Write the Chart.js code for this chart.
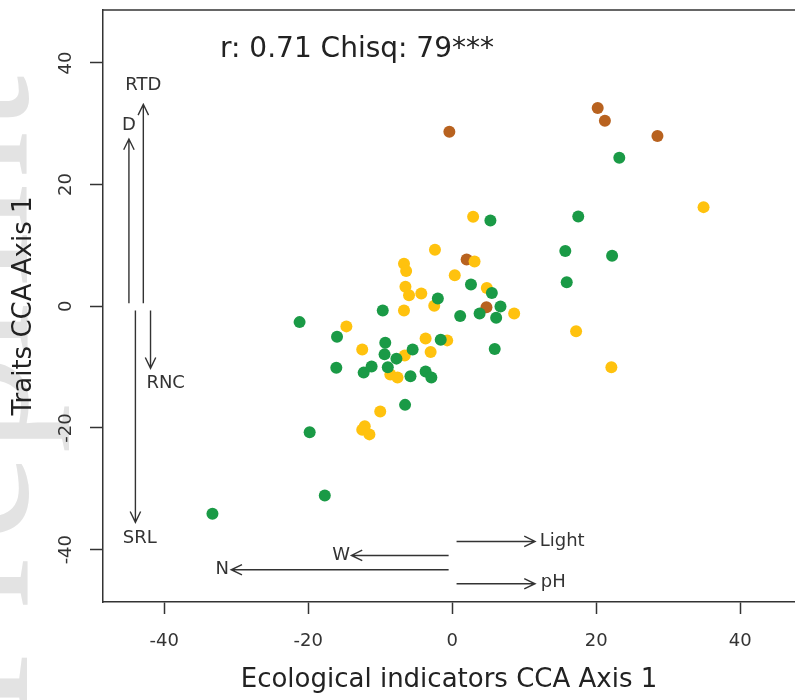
<!DOCTYPE html>
<html>
<head>
<meta charset="utf-8">
<script src="https://cdn.jsdelivr.net/npm/chart.js@4"></script>
<style>
  html, body { margin: 0; padding: 0; background: #fff; }
  #wrap { width: 795px; height: 700px; }
</style>
</head>
<body>
<div id="wrap"><canvas id="cca"></canvas></div>
<script>
// CCA site scores (x = ecological indicators axis 1, y = traits axis 1)
const GREEN_X = [23.2, 5.3, 17.5, 15.7, 22.2, 15.9, 2.6, 5.5, -2.0, 6.7, 3.8, 1.1, 6.1, -1.6, -5.5, 5.9, -9.65,
  -21.2, -16.0, -9.3, -9.4, -7.75, -16.1, -12.3, -11.2, -8.95, -5.8, -3.7, -2.9, -6.55, -19.8, -33.3, -17.7];
const GREEN_Y = [24.4, 14.1, 14.75, 9.1, 8.3, 3.95, 3.6, 2.2, 1.3, -0.05, -1.2, -1.6, -1.9, -5.5, -7.1, -7.0, -0.7,
  -2.6, -5.0, -6.0, -7.9, -8.6, -10.1, -10.9, -9.9, -10.0, -11.5, -10.7, -11.7, -16.2, -20.7, -34.1, -31.1];

const YELLOW_X = [34.9, 2.9, -2.4, 3.1, 0.35, 4.8, -2.5, -4.3, 8.6, -3.7, -0.7, -3.0, 17.2, 22.1, -6.7, -6.4, -6.5,
  -6.0, -6.7, -14.7, -12.5, -6.6, -8.6, -7.6, -10.0, -12.15, -12.5, -11.5];
const YELLOW_Y = [16.3, 14.7, 9.3, 7.35, 5.1, 3.0, 0.1, 2.1, -1.2, -5.3, -5.6, -7.5, -4.1, -10.0, 7.0, 5.8, 3.2,
  1.8, -0.7, -3.3, -7.1, -8.1, -11.2, -11.7, -17.3, -19.7, -20.3, -21.05];

const BROWN_X = [-0.4, 20.2, 21.2, 28.5, 2.0, 4.75];
const BROWN_Y = [28.7, 32.6, 30.5, 28.0, 7.7, -0.16];

// biplot arrows (start -> tip) and where their labels sit
const ARROW_NAMES = ['D', 'RTD', 'SRL', 'RNC', 'Light', 'pH', 'W', 'N'];
const ARROW_X0 = [-44.9, -42.9, -44.0, -41.9, 0.6, 0.6, -0.5, -0.5];
const ARROW_Y0 = [0.5, 0.5, -0.7, -0.7, -38.65, -45.6, -40.95, -43.3];
const ARROW_X1 = [-44.9, -42.9, -44.0, -41.9, 11.5, 11.5, -14.0, -30.7];
const ARROW_Y1 = [27.5, 33.2, -35.5, -10.2, -38.65, -45.6, -40.95, -43.3];
const LABEL_X = [-44.9, -42.9, -43.4, -39.8, 12.15, 12.3, -14.2, -31.0];
const LABEL_Y = [29.8, 36.3, -38.2, -12.7, -38.65, -45.3, -40.95, -43.3];
const LABEL_ALIGN = ['center', 'center', 'center', 'center', 'left', 'left', 'right', 'right'];

const X_TICKS = [-40, -20, 0, 20, 40];
const Y_TICKS = [-40, -20, 0, 20, 40];
const STAT_TEXT = 'r: 0.71 Chisq: 79***';

const INK = '#333333';
Chart.defaults.font.family = 'DejaVu Sans';

function toPoints(xs, ys) {
  return xs.map((x, i) => ({ x: x, y: ys[i] }));
}

function noPad(s) {
  s.paddingTop = 0; s.paddingBottom = 0; s.paddingLeft = 0; s.paddingRight = 0;
}

const watermark = {
  id: 'watermark',
  beforeDraw(chart) {
    const ctx = chart.ctx;
    ctx.save();
    ctx.fillStyle = '#ffffff';
    ctx.fillRect(0, 0, chart.width, chart.height);
    ctx.fillStyle = '#e3e3e3';
    ctx.font = '200px "Liberation Serif"';
    ctx.translate(27, 720);
    ctx.rotate(-Math.PI / 2);
    ctx.textBaseline = 'alphabetic';
    ctx.fillText('Preprint', 0, 0);
    ctx.restore();
  }
};

const extras = {
  id: 'extras',
  afterDatasetsDraw(chart) {
    const ctx = chart.ctx;
    const xs = chart.scales.x, ys = chart.scales.y;
    const area = chart.chartArea;
    ctx.save();

    // top edge of the box (R's box without the cut-off right side)
    ctx.strokeStyle = INK;
    ctx.lineWidth = 1.5;
    ctx.beginPath();
    ctx.moveTo(area.left, area.top);
    ctx.lineTo(area.right, area.top);
    ctx.stroke();

    // arrows
    ctx.lineWidth = 1.4;
    ARROW_NAMES.forEach((name, i) => {
      const x0 = xs.getPixelForValue(ARROW_X0[i]), y0 = ys.getPixelForValue(ARROW_Y0[i]);
      const x1 = xs.getPixelForValue(ARROW_X1[i]), y1 = ys.getPixelForValue(ARROW_Y1[i]);
      const ang = Math.atan2(y1 - y0, x1 - x0);
      const len = 12, spread = 0.45;
      ctx.beginPath();
      ctx.moveTo(x0, y0);
      ctx.lineTo(x1, y1);
      ctx.moveTo(x1 - len * Math.cos(ang - spread), y1 - len * Math.sin(ang - spread));
      ctx.lineTo(x1, y1);
      ctx.lineTo(x1 - len * Math.cos(ang + spread), y1 - len * Math.sin(ang + spread));
      ctx.stroke();

      ctx.fillStyle = INK;
      ctx.font = '18px "DejaVu Sans"';
      ctx.textAlign = LABEL_ALIGN[i];
      ctx.textBaseline = 'middle';
      ctx.fillText(name, xs.getPixelForValue(LABEL_X[i]), ys.getPixelForValue(LABEL_Y[i]));
    });

    // correlation text
    ctx.fillStyle = '#222';
    ctx.font = '28px "DejaVu Sans"';
    ctx.textAlign = 'left';
    ctx.textBaseline = 'alphabetic';
    ctx.fillText(STAT_TEXT, 220, 57);
    ctx.restore();
  }
};

new Chart(document.getElementById('cca'), {
  type: 'scatter',
  data: {
    datasets: [
      { label: 'green', data: toPoints(GREEN_X, GREEN_Y), backgroundColor: '#1a9a46' },
      { label: 'yellow', data: toPoints(YELLOW_X, YELLOW_Y), backgroundColor: '#ffc20e' },
      { label: 'brown', data: toPoints(BROWN_X, BROWN_Y), backgroundColor: '#b8621f' }
    ]
  },
  options: {
    responsive: true,
    maintainAspectRatio: false,
    animation: false,
    layout: { autoPadding: false, padding: { top: 10, right: 0, left: 0, bottom: 0 } },
    elements: { point: { radius: 6, borderWidth: 0, hoverRadius: 6 } },
    plugins: { legend: { display: false }, tooltip: { enabled: false } },
    scales: {
      x: {
        type: 'linear',
        min: -48.5,
        max: 47.6,
        afterBuildTicks: s => { s.ticks = X_TICKS.map(v => ({ value: v })); },
        afterFit: s => { s.height = 98; noPad(s); },
        grid: { drawOnChartArea: false, drawTicks: true, tickLength: 12, tickColor: INK, tickWidth: 1.5 },
        border: { display: true, color: INK, width: 1.5 },
        ticks: { color: INK, font: { size: 18 }, padding: 17, maxRotation: 0 },
        title: { display: true, text: 'Ecological indicators CCA Axis 1', color: '#222', font: { size: 26 }, padding: { top: 0, bottom: 4 } }
      },
      y: {
        type: 'linear',
        min: -48.6,
        max: 48.7,
        afterBuildTicks: s => { s.ticks = Y_TICKS.map(v => ({ value: v })); },
        afterFit: s => { s.width = 103; noPad(s); },
        grid: { drawOnChartArea: false, drawTicks: true, tickLength: 13, tickColor: INK, tickWidth: 1.5 },
        border: { display: true, color: INK, width: 1.5 },
        ticks: { color: INK, font: { size: 18 }, padding: 9, minRotation: 90, maxRotation: 90, crossAlign: 'center' },
        title: { display: true, text: 'Traits CCA Axis 1', color: '#222', font: { size: 26 }, padding: { top: 9, bottom: 0 } }
      }
    }
  },
  plugins: [watermark, extras]
});
</script>
</body>
</html>
